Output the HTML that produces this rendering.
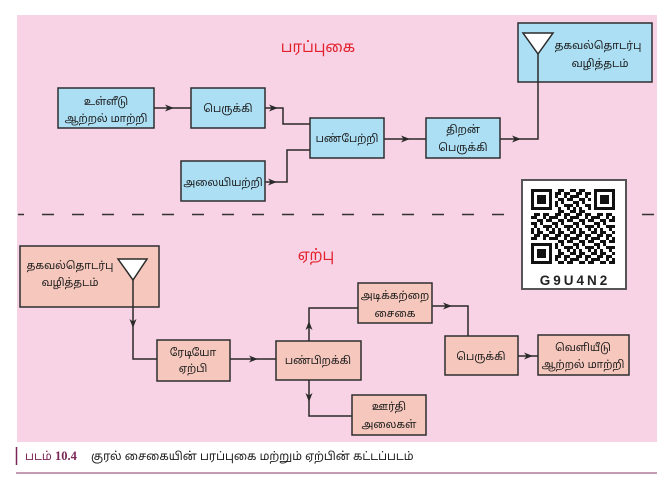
<!DOCTYPE html>
<html><head><meta charset="utf-8">
<style>
html,body{margin:0;padding:0;background:#fff;}
svg{display:block;}
text{font-family:"Liberation Sans","Noto Sans Tamil","Lohit Tamil",sans-serif;}
</style></head>
<body>
<svg width="670" height="483" viewBox="0 0 670 483" xmlns="http://www.w3.org/2000/svg">
<defs>
<path id="ar" d="M0,0 L-9,-3.5 L-6.5,0 L-9,3.5 Z" fill="#2a2a2a"/>
<pattern id="qr" x="531" y="189" width="21" height="21" patternUnits="userSpaceOnUse">
<rect width="21" height="21" fill="#fff"/>
<g fill="#111">
<rect x="0" y="0" width="3" height="3"/><rect x="6" y="0" width="6" height="3"/><rect x="18" y="0" width="3" height="3"/>
<rect x="3" y="3" width="6" height="3"/><rect x="12" y="3" width="6" height="3"/>
<rect x="0" y="6" width="6" height="3"/><rect x="12" y="6" width="3" height="3"/><rect x="18" y="6" width="3" height="3"/>
<rect x="6" y="9" width="6" height="3"/><rect x="15" y="9" width="6" height="3"/>
<rect x="0" y="12" width="6" height="3"/><rect x="9" y="12" width="3" height="3"/>
<rect x="3" y="15" width="3" height="3"/><rect x="12" y="15" width="9" height="3"/>
<rect x="0" y="18" width="3" height="3"/><rect x="6" y="18" width="3" height="3"/><rect x="15" y="18" width="3" height="3"/>
</g>
</pattern>
</defs>

<!-- pink background -->
<rect x="17" y="15" width="640" height="427" fill="#f8d3e5"/>

<!-- dashed separator -->
<line x1="18" y1="214.5" x2="657" y2="214.5" stroke="#333" stroke-width="1.5" stroke-dasharray="12 18" stroke-dashoffset="6"/>

<!-- titles -->
<text x="318" y="52" font-size="15" fill="#e2202c" text-anchor="middle">பரப்புகை</text>
<text x="316" y="260" font-size="15" fill="#e2202c" text-anchor="middle">ஏற்பு</text>

<g stroke="#2a2a2a" stroke-width="1.5" fill="none">
<line x1="154" y1="108" x2="191" y2="108"/>
<polyline points="265,108 283,108 283,124 310,124"/>
<polyline points="265,182 287,182 287,150 310,150"/>
<line x1="384" y1="139" x2="426" y2="139"/>
<polyline points="500,139 538,139 538,54"/>
<polyline points="133,280 133,359 157,359"/>
<line x1="230" y1="359" x2="276" y2="359"/>
<polyline points="309,341 309,308 358,308"/>
<polyline points="432,306 468,306 468,336"/>
<polyline points="309,380 309,416 352,416"/>
<line x1="518" y1="356" x2="538" y2="356"/>
</g>

<use href="#ar" transform="translate(174,108)"/>
<use href="#ar" transform="translate(278,108)"/>
<use href="#ar" transform="translate(277,182)"/>
<use href="#ar" transform="translate(410,139)"/>
<use href="#ar" transform="translate(521,139)"/>
<use href="#ar" transform="translate(133,328) rotate(90)"/>
<use href="#ar" transform="translate(258,359)"/>
<use href="#ar" transform="translate(309,321) rotate(-90)"/>
<use href="#ar" transform="translate(452,306)"/>
<use href="#ar" transform="translate(309,402) rotate(90)"/>
<use href="#ar" transform="translate(533,356)"/>

<g fill="#acdff4" stroke="#2e2e2e" stroke-width="1.5">
<rect x="58" y="88" width="96" height="40"/>
<rect x="191" y="88" width="74" height="40"/>
<rect x="181" y="161" width="84" height="40"/>
<rect x="310" y="118" width="74" height="40"/>
<rect x="426" y="118" width="74" height="40"/>
<rect x="518" y="23" width="134" height="59"/>
</g>
<polygon points="523,33 553,33 538,54" fill="#fff" stroke="#2a2a2a" stroke-width="1.5"/>
<line x1="538" y1="54" x2="538" y2="82" stroke="#2a2a2a" stroke-width="1.5"/>

<g fill="#f6c8bd" stroke="#2e2e2e" stroke-width="1.5">
<rect x="20" y="246" width="139" height="61"/>
<rect x="157" y="340" width="73" height="41"/>
<rect x="276" y="341" width="85" height="39"/>
<rect x="358" y="283" width="74" height="40"/>
<rect x="445" y="336" width="73" height="39"/>
<rect x="538" y="335" width="91" height="40"/>
<rect x="352" y="395" width="74" height="40"/>
</g>
<polygon points="118,259 147,259 133,280" fill="#fff" stroke="#2a2a2a" stroke-width="1.5"/>
<line x1="133" y1="280" x2="133" y2="307" stroke="#2a2a2a" stroke-width="1.5"/>

<g font-size="10.6" fill="#1a1a1a" text-anchor="middle">
<text x="106" y="105">உள்ளீடு</text>
<text x="106" y="122">ஆற்றல் மாற்றி</text>
<text x="228" y="112">பெருக்கி</text>
<text x="223" y="186">அலையியற்றி</text>
<text x="347" y="142">பண்பேற்றி</text>
<text x="463" y="133">திறன்</text>
<text x="463" y="151">பெருக்கி</text>
<text x="598" y="49">தகவல்தொடர்பு</text>
<text x="600" y="67">வழித்தடம்</text>

<text x="70" y="269">தகவல்தொடர்பு</text>
<text x="70" y="286">வழித்தடம்</text>
<text x="193" y="356">ரேடியோ</text>
<text x="193" y="372">ஏற்பி</text>
<text x="318" y="364">பண்பிறக்கி</text>
<text x="395" y="299">அடிக்கற்றை</text>
<text x="395" y="317">சைகை</text>
<text x="481" y="360">பெருக்கி</text>
<text x="583" y="351">வெளியீடு</text>
<text x="583" y="368">ஆற்றல் மாற்றி</text>
<text x="389" y="410">ஊர்தி</text>
<text x="389" y="428">அலைகள்</text>
</g>

<rect x="522" y="180" width="104" height="109" fill="#fff" stroke="#555" stroke-width="2"/>
<rect x="531" y="189" width="84" height="75" fill="url(#qr)"/>
<g>
<rect x="531" y="189" width="24" height="24" fill="#fff"/>
<rect x="531" y="189" width="21" height="21" fill="#111"/>
<rect x="534" y="192" width="15" height="15" fill="#fff"/>
<rect x="537" y="195" width="9" height="9" fill="#111"/>

<rect x="591" y="189" width="24" height="24" fill="#fff"/>
<rect x="594" y="189" width="21" height="21" fill="#111"/>
<rect x="597" y="192" width="15" height="15" fill="#fff"/>
<rect x="600" y="195" width="9" height="9" fill="#111"/>

<rect x="531" y="240" width="24" height="24" fill="#fff"/>
<rect x="531" y="243" width="21" height="21" fill="#111"/>
<rect x="534" y="246" width="15" height="15" fill="#fff"/>
<rect x="537" y="249" width="9" height="9" fill="#111"/>
</g>
<text x="575" y="285" font-size="13.5" font-weight="bold" fill="#222" text-anchor="middle" letter-spacing="3" style="font-family:'Liberation Sans',sans-serif">G9U4N2</text>

<line x1="16.5" y1="447" x2="16.5" y2="465" stroke="#7b2657" stroke-width="1.5"/>
<line x1="16" y1="473" x2="657" y2="473" stroke="#8a3a6a" stroke-width="1"/>
<text x="25" y="460" font-size="11.5" fill="#7b2657">படம் <tspan font-family="Liberation Serif" font-weight="bold" font-size="12.5">10.4</tspan></text>
<text x="91" y="460" font-size="11.4" fill="#1a1a1a">குரல் சைகையின் பரப்புகை மற்றும் ஏற்பின் கட்டப்படம்</text>
</svg>
</body></html>
